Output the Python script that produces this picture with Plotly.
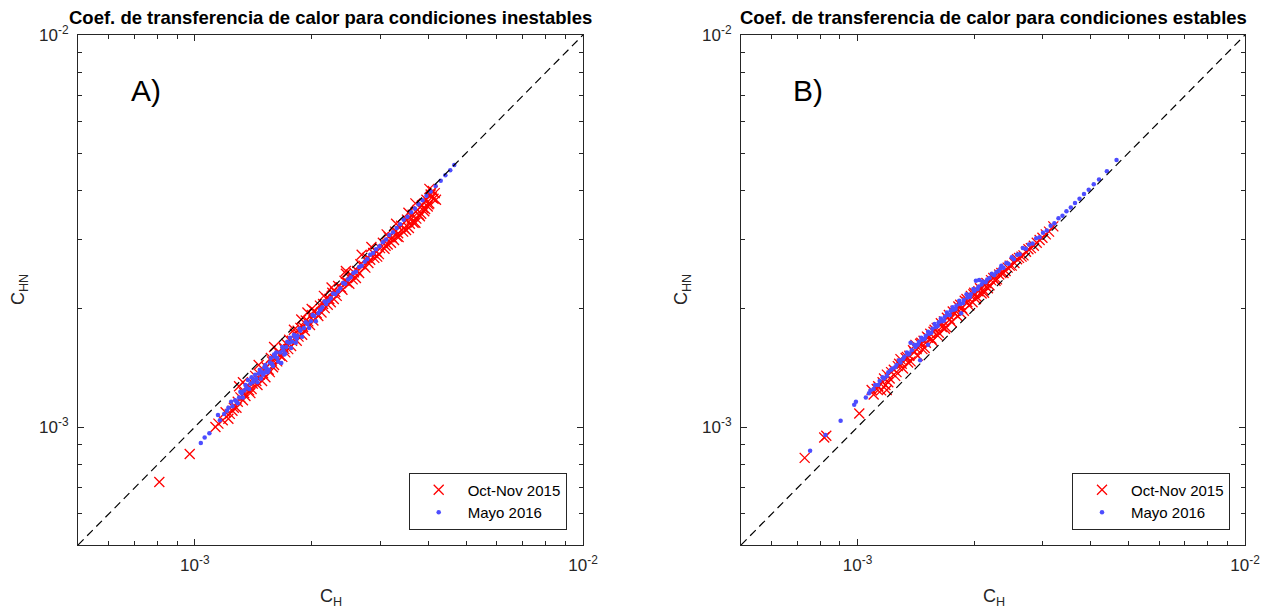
import math
import plotly.graph_objects as go

# ---------------- data (values in units of 1e-3) ----------------
SCALE = 1e-3

# Panel A: unstable conditions
a_oct_ch = [0.81, 0.97, 1.15, 1.13, 1.23, 1.20, 1.26, 1.29, 1.31, 1.25, 1.34, 1.38, 1.36, 1.41, 1.44, 1.47, 1.43, 1.50,
            1.53, 1.55, 1.58, 1.61, 1.57, 1.64, 1.66, 1.69, 1.72, 1.70, 1.75, 1.78, 1.81, 1.84, 1.80, 1.87, 1.90, 1.93,
            1.96, 2.00, 2.03, 2.06, 2.10, 2.14, 2.18, 2.22, 2.26, 2.30, 2.34, 2.38, 2.43, 2.47, 2.52, 2.57, 2.62, 2.67,
            2.72, 2.78, 2.83, 2.88, 2.94, 3.00, 3.05, 3.10, 3.16, 3.22, 3.28, 3.34, 3.40, 3.46, 3.52, 3.58, 3.64, 3.70,
            3.75, 3.80, 3.85, 3.90, 3.95, 4.00, 4.05, 4.10, 3.62, 3.35, 2.95, 2.60, 2.20, 1.85, 1.60, 1.40, 3.88, 4.08,
            2.69, 2.45, 3.12, 1.95, 1.33, 4.18,
            1.18, 1.22, 1.28, 1.33, 1.35, 1.39, 1.45, 1.49, 1.52, 1.56, 1.59, 1.63, 1.68, 1.71, 1.74, 1.77, 1.83, 1.89,
            1.92, 1.98, 2.02, 2.08, 2.12, 2.16, 2.24, 2.28, 2.32, 2.40, 2.50, 2.55, 2.65, 2.75, 2.80, 2.90, 2.98, 3.08,
            3.14, 3.20, 3.26, 3.32, 3.44, 3.50, 3.56, 3.66, 3.72, 3.78, 3.83, 3.92, 3.98, 4.02, 4.12, 4.15,
            1.60, 1.88, 2.15, 2.45, 2.85, 3.30, 3.70, 4.02, 1.30, 1.46, 2.00, 2.25, 3.55]
a_oct_chn = [0.724, 0.853, 1.02, 1.00, 1.08, 1.09, 1.12, 1.16, 1.19, 1.10, 1.22, 1.24, 1.27, 1.29, 1.31, 1.36, 1.35, 1.37,
             1.42, 1.40, 1.47, 1.49, 1.50, 1.55, 1.52, 1.60, 1.63, 1.58, 1.67, 1.66, 1.73, 1.76, 1.77, 1.79, 1.80, 1.87,
             1.86, 1.93, 1.98, 1.95, 2.04, 2.06, 2.13, 2.12, 2.20, 2.21, 2.29, 2.27, 2.36, 2.34, 2.45, 2.48, 2.50, 2.60,
             2.58, 2.70, 2.67, 2.78, 2.80, 2.86, 2.95, 2.90, 3.05, 3.04, 3.15, 3.12, 3.26, 3.22, 3.38, 3.30, 3.48, 3.32,
             3.58, 3.45, 3.68, 3.55, 3.80, 3.70, 3.92, 4.00, 3.40, 3.05, 2.72, 2.40, 2.05, 1.70, 1.44, 1.25, 3.62, 3.85,
             2.75, 2.46, 3.10, 1.96, 1.30, 3.80,
             1.04, 1.05, 1.12, 1.17, 1.20, 1.22, 1.28, 1.31, 1.34, 1.38, 1.42, 1.47, 1.51, 1.55, 1.58, 1.61, 1.66, 1.72,
             1.76, 1.82, 1.87, 1.92, 1.96, 2.01, 2.08, 2.12, 2.16, 2.24, 2.32, 2.38, 2.47, 2.55, 2.62, 2.70, 2.76, 2.85,
             2.92, 2.95, 3.00, 3.06, 3.15, 3.18, 3.22, 3.32, 3.40, 3.48, 3.50, 3.60, 3.65, 3.72, 3.82, 3.95,
             1.60, 1.88, 2.16, 2.50, 2.88, 3.30, 3.72, 4.05, 1.27, 1.44, 2.00, 2.27, 3.52]

a_may_ch = [1.036, 1.06, 1.09, 1.147, 1.16, 1.19, 1.22, 1.25, 1.27, 1.30, 1.32, 1.34, 1.37, 1.36, 1.39, 1.42, 1.44, 1.46,
            1.49, 1.51, 1.53, 1.56, 1.58, 1.61, 1.63, 1.67, 1.66, 1.69, 1.72, 1.75, 1.78, 1.81, 1.84, 1.87, 1.91, 1.95,
            1.99, 2.03, 2.08, 2.13, 2.18, 2.24, 2.30, 2.37, 2.44, 2.52, 2.60, 2.69, 2.78, 2.88, 2.99, 3.11, 3.24, 3.38,
            3.53, 3.69, 3.86, 4.05, 4.30, 4.55, 4.66, 1.48, 1.55, 1.70, 1.40, 1.60, 1.76, 1.29, 1.52, 1.83, 2.10,
            1.21, 1.24, 1.28, 1.31, 1.33, 1.35, 1.38, 1.41, 1.43, 1.45, 1.47, 1.50, 1.52, 1.54, 1.57, 1.59, 1.62, 1.64,
            1.68, 1.71, 1.73, 1.77, 1.80, 1.82, 1.86, 1.89, 1.93, 1.97, 2.01, 2.05, 2.11, 2.16, 2.21, 2.27, 2.34, 2.41,
            2.48, 2.56, 2.65, 2.74, 2.83, 2.93, 3.05, 3.17, 3.31, 3.45, 3.61, 3.77, 3.95, 4.17, 4.42]
a_may_chn = [0.91, 0.94, 0.964, 1.073, 1.04, 1.08, 1.12, 1.13, 1.17, 1.19, 1.22, 1.24, 1.318, 1.26, 1.29, 1.32, 1.33, 1.37,
             1.38, 1.42, 1.41, 1.46, 1.45, 1.51, 1.50, 1.457, 1.55, 1.57, 1.60, 1.64, 1.65, 1.70, 1.71, 1.76, 1.79, 1.83,
             1.86, 1.92, 1.95, 2.02, 2.06, 2.13, 2.18, 2.26, 2.32, 2.41, 2.49, 2.58, 2.68, 2.78, 2.89, 3.01, 3.14, 3.29,
             3.44, 3.61, 3.79, 3.99, 4.25, 4.52, 4.66, 1.33, 1.40, 1.53, 1.34, 1.53, 1.69, 1.15, 1.38, 1.68, 1.99,
             1.10, 1.16, 1.16, 1.23, 1.19, 1.28, 1.25, 1.30, 1.36, 1.30, 1.40, 1.36, 1.44, 1.38, 1.50, 1.43, 1.55, 1.47,
             1.60, 1.54, 1.65, 1.59, 1.72, 1.64, 1.78, 1.70, 1.85, 1.79, 1.93, 1.86, 1.99, 2.09, 2.10, 2.19, 2.22, 2.33,
             2.38, 2.47, 2.56, 2.64, 2.75, 2.84, 2.96, 3.09, 3.22, 3.38, 3.53, 3.70, 3.89, 4.12, 4.39]

# Panel B: stable conditions
b_oct_ch = [0.73, 0.82, 0.83, 1.01, 1.087, 1.10, 1.13, 1.16, 1.19, 1.21, 1.24, 1.27, 1.30, 1.29, 1.33, 1.36, 1.39, 1.42,
            1.41, 1.45, 1.48, 1.51, 1.50, 1.54, 1.57, 1.60, 1.62, 1.64, 1.67, 1.70, 1.73, 1.76, 1.79, 1.82, 1.86, 1.89,
            1.92, 1.96, 2.00, 2.03, 2.07, 2.11, 2.15, 2.19, 2.24, 2.29, 2.35, 2.41, 2.47, 2.54, 2.61, 2.68, 2.76, 2.85,
            2.95, 3.06, 3.20, 1.55, 1.69, 1.85, 1.47, 1.35, 1.98, 2.12, 1.26, 1.18, 1.189,
            1.12, 1.15, 1.17, 1.20, 1.22, 1.25, 1.28, 1.31, 1.34, 1.37, 1.40, 1.43, 1.46, 1.49, 1.52, 1.56, 1.58, 1.61,
            1.65, 1.68, 1.72, 1.75, 1.78, 1.81, 1.84, 1.88, 1.91, 1.94, 1.99, 2.02, 2.05, 2.09, 2.13, 2.17, 2.21, 2.27,
            2.32, 2.38, 2.44, 2.50, 2.58, 2.65, 2.72, 2.80, 2.90, 3.00, 3.12]
b_oct_chn = [0.834, 0.94, 0.95, 1.083, 1.243, 1.21, 1.27, 1.30, 1.36, 1.33, 1.40, 1.43, 1.45, 1.49, 1.50, 1.52, 1.57, 1.58,
             1.62, 1.63, 1.66, 1.70, 1.64, 1.73, 1.75, 1.79, 1.74, 1.84, 1.86, 1.90, 1.88, 1.97, 1.98, 2.03, 2.01, 2.10,
             2.08, 2.16, 2.20, 2.15, 2.26, 2.24, 2.33, 2.30, 2.40, 2.38, 2.47, 2.50, 2.58, 2.62, 2.70, 2.74, 2.84, 2.90,
             3.00, 3.10, 3.25, 1.68, 1.80, 1.95, 1.58, 1.46, 2.08, 2.20, 1.38, 1.28, 1.243,
             1.25, 1.24, 1.33, 1.30, 1.38, 1.35, 1.45, 1.41, 1.51, 1.47, 1.55, 1.52, 1.64, 1.59, 1.69, 1.66, 1.77, 1.71,
             1.80, 1.78, 1.93, 1.85, 1.95, 1.92, 2.05, 1.98, 2.12, 2.04, 2.18, 2.12, 2.22, 2.19, 2.30, 2.26, 2.37, 2.36,
             2.45, 2.47, 2.55, 2.58, 2.68, 2.72, 2.80, 2.86, 2.95, 3.04, 3.15]

b_may_ch = [0.754, 0.826, 0.904, 0.98, 0.99, 1.05, 1.08, 1.11, 1.14, 1.17, 1.20, 1.23, 1.26, 1.29, 1.32, 1.35, 1.37, 1.38,
            1.41, 1.45, 1.44, 1.47, 1.50, 1.53, 1.56, 1.59, 1.62, 1.65, 1.68, 1.71, 1.74, 1.77, 1.80, 1.84, 1.88, 1.92,
            1.96, 2.00, 2.04, 2.09, 2.14, 2.19, 2.25, 2.31, 2.38, 2.45, 2.53, 2.62, 2.72, 2.83, 2.95, 3.08, 3.22, 3.38,
            3.55, 3.74, 3.95, 4.20, 4.66, 2.02, 1.52, 1.85, 2.34, 2.06,
            1.07, 1.10, 1.13, 1.16, 1.19, 1.22, 1.25, 1.28, 1.31, 1.34, 1.36, 1.40, 1.43, 1.46, 1.49, 1.52, 1.55, 1.58,
            1.61, 1.64, 1.67, 1.70, 1.73, 1.76, 1.79, 1.83, 1.87, 1.91, 1.95, 1.99, 2.05, 2.10, 2.16, 2.22, 2.28, 2.35,
            2.42, 2.50, 2.58, 2.67, 2.77, 2.89, 3.01, 3.15, 3.30, 3.46, 3.64, 3.84, 4.07, 4.40]
b_may_chn = [0.87, 0.954, 1.038, 1.14, 1.16, 1.19, 1.24, 1.28, 1.31, 1.33, 1.38, 1.41, 1.44, 1.46, 1.51, 1.53, 1.64, 1.57,
             1.60, 1.48, 1.65, 1.67, 1.71, 1.73, 1.78, 1.80, 1.85, 1.86, 1.91, 1.93, 1.98, 1.99, 2.04, 2.06, 2.11, 2.14,
             2.18, 2.22, 2.25, 2.31, 2.34, 2.40, 2.44, 2.50, 2.55, 2.61, 2.68, 2.76, 2.85, 2.94, 3.05, 3.17, 3.31, 3.46,
             3.63, 3.82, 4.03, 4.28, 4.80, 2.36, 1.62, 1.95, 2.54, 2.37,
             1.22, 1.25, 1.28, 1.34, 1.35, 1.40, 1.42, 1.48, 1.49, 1.55, 1.54, 1.62, 1.62, 1.69, 1.68, 1.75, 1.74, 1.83,
             1.81, 1.89, 1.87, 1.96, 1.93, 2.02, 2.00, 2.10, 2.07, 2.18, 2.15, 2.25, 2.28, 2.35, 2.38, 2.46, 2.48, 2.58,
             2.62, 2.71, 2.75, 2.86, 2.92, 3.03, 3.13, 3.26, 3.41, 3.55, 3.73, 3.93, 4.16, 4.49]

ref_line = [5e-4, 1e-2]
axis_range = [5e-4, 1e-2]
major_ticks = [1e-3, 1e-2]
major_text = ["10<sup>-3</sup>", "10<sup>-2</sup>"]
minor_ticks = [6e-4, 7e-4, 8e-4, 9e-4, 2e-3, 3e-3, 4e-3, 5e-3, 6e-3, 7e-3, 8e-3, 9e-3]

titles = ["Coef. de transferencia de calor para condiciones inestables",
          "Coef. de transferencia de calor para condiciones estables"]
panel_labels = ["A)", "B)"]
series_names = ["Oct-Nov 2015", "Mayo 2016"]

# ---------------- figure ----------------
W, H = 1264, 612
FONT = "Liberation Sans, Arial, sans-serif"
AX = "#262626"
RED = "#ff0000"
BLUE = "#4d4dff"

def sc(v):
    return [x * SCALE for x in v]

fig = go.Figure()
panels = [
    (a_oct_ch, a_oct_chn, a_may_ch, a_may_chn, "x", "y", "legend"),
    (b_oct_ch, b_oct_chn, b_may_ch, b_may_chn, "x2", "y2", "legend2"),
]
for (och, ochn, mch, mchn, xa, ya, lg) in panels:
    fig.add_trace(go.Scatter(x=sc(och), y=sc(ochn), mode="markers", name=series_names[0],
                             xaxis=xa, yaxis=ya, legend=lg,
                             marker=dict(symbol="x-thin", size=10, color=RED,
                                         line=dict(color=RED, width=1.3))))
    fig.add_trace(go.Scatter(x=sc(mch), y=sc(mchn), mode="markers", name=series_names[1],
                             xaxis=xa, yaxis=ya, legend=lg,
                             marker=dict(symbol="circle", size=4.5, color=BLUE, line=dict(width=0))))
    fig.add_trace(go.Scatter(x=ref_line, y=ref_line, mode="lines", showlegend=False,
                             xaxis=xa, yaxis=ya, hoverinfo="skip",
                             line=dict(color="black", width=1.2, dash="8px,5px")))

x_domains = [[78 / W, 583 / W], [741 / W, 1245 / W]]
y_domain = [1 - 545 / H, 1 - 35 / H]
lrange = [math.log10(axis_range[0]), math.log10(axis_range[1])]

def axis(domain, anchor):
    return dict(type="log", domain=domain, range=lrange, anchor=anchor,
                showline=True, linecolor=AX, linewidth=1, mirror="ticks",
                ticks="inside", ticklen=6, tickcolor=AX, tickwidth=1,
                tickmode="array", tickvals=major_ticks, ticktext=major_text,
                tickfont=dict(family=FONT, size=17, color=AX),
                minor=dict(tickmode="array", tickvals=minor_ticks, ticks="inside",
                           ticklen=4, tickcolor=AX, tickwidth=1, showgrid=False),
                showgrid=False, zeroline=False, automargin=False,
                ticklabelstandoff=5)

fig.update_layout(
    width=W, height=H,
    margin=dict(l=0, r=0, t=0, b=0),
    paper_bgcolor="white", plot_bgcolor="white",
    font=dict(family=FONT, size=14, color=AX),
    xaxis=axis(x_domains[0], "y"),
    yaxis=axis(y_domain, "x"),
    xaxis2=axis(x_domains[1], "y2"),
    yaxis2=axis(y_domain, "x2"),
    showlegend=True,
)

for i, lg in enumerate(["legend", "legend2"]):
    right = [566.7, 1230][i]
    fig.update_layout({lg: dict(x=right / W, y=1 - 529.5 / H, xanchor="right", yanchor="bottom",
                                xref="paper", yref="paper",
                                bgcolor="white", bordercolor=AX, borderwidth=1,
                                font=dict(family=FONT, size=15, color="black"),
                                itemwidth=48, tracegroupgap=0)})

annotations = []
centers = [(78 + 583) / 2, (741 + 1245) / 2]
for i in range(2):
    annotations.append(dict(text="<b>%s</b>" % titles[i], x=centers[i] / W, y=1 - 17 / H,
                            xref="paper", yref="paper", showarrow=False,
                            xanchor="center", yanchor="middle",
                            font=dict(family=FONT, size=18.5, color="black")))
    annotations.append(dict(text=panel_labels[i], x=[146, 808][i] / W, y=1 - 90 / H,
                            xref="paper", yref="paper", showarrow=False,
                            xanchor="center", yanchor="middle",
                            font=dict(family=FONT, size=30, color="black")))
    annotations.append(dict(text="C<sub>H</sub>", x=[331, 994][i] / W, y=1 - 597 / H,
                            xref="paper", yref="paper", showarrow=False,
                            xanchor="center", yanchor="middle",
                            font=dict(family=FONT, size=18, color=AX)))
    annotations.append(dict(text="C<sub>HN</sub>", x=[19, 682][i] / W, y=1 - 290 / H,
                            xref="paper", yref="paper", showarrow=False, textangle=-90,
                            xanchor="center", yanchor="middle",
                            font=dict(family=FONT, size=18, color=AX)))
fig.update_layout(annotations=annotations)

fig.write_html("out.html")
